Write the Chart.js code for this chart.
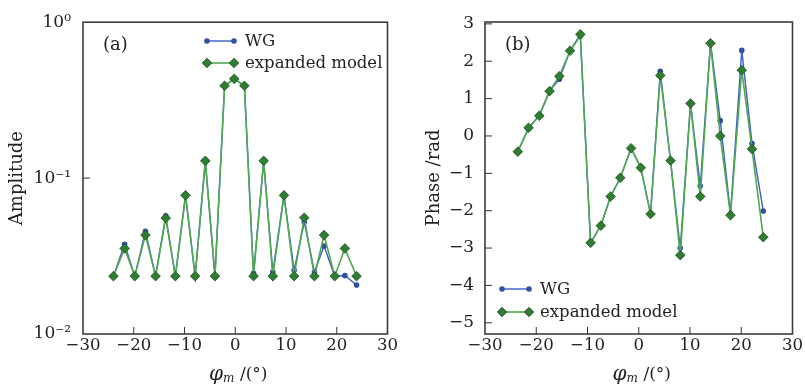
<!DOCTYPE html>
<html>
<head>
<meta charset="utf-8">
<script src="https://cdn.jsdelivr.net/npm/chart.js@4.4.1/dist/chart.umd.min.js"></script>
<style>
  body { margin: 0; background: #fff; }
  #wrap { position: relative; width: 805px; height: 387px; }
  canvas { position: absolute; top: 0; }
</style>
</head>
<body>
<div id="wrap">
  <canvas id="ampChart" width="400" height="387" style="left:0"></canvas>
  <canvas id="phaseChart" width="405" height="387" style="left:400px"></canvas>
</div>
<script>
// angles (deg)
const phiA = [-24.0, -21.8, -19.8, -17.7, -15.7, -13.7, -11.8, -9.8, -7.9, -5.9, -4.0, -2.1, -0.2,
  1.8, 3.6, 5.6, 7.4, 9.6, 11.6, 13.6, 15.6, 17.5, 19.6, 21.6, 23.9];
const phiB = [-23.6, -21.5, -19.4, -17.4, -15.5, -13.4, -11.4, -9.4, -7.4, -5.5, -3.6, -1.5, 0.4,
  2.3, 4.2, 6.2, 8.1, 10.1, 12.0, 14.0, 15.9, 17.9, 20.1, 22.1, 24.3];

// (a) amplitude
const ampWG = [0.0235, 0.0376, 0.0235, 0.0455, 0.0235, 0.0573, 0.0235, 0.0775, 0.0235, 0.129, 0.0235, 0.391, 0.433,
  0.391, 0.0245, 0.129, 0.025, 0.0775, 0.0256, 0.0522, 0.025, 0.0367, 0.0235, 0.0237, 0.0206];
const ampEM = [0.0235, 0.0354, 0.0235, 0.0431, 0.0235, 0.0554, 0.0235, 0.0775, 0.0235, 0.129, 0.0235, 0.391, 0.433,
  0.391, 0.0235, 0.129, 0.0235, 0.0775, 0.0235, 0.0557, 0.0235, 0.0431, 0.0235, 0.0354, 0.0235];

// (b) phase, rad
const phaseWG = [-0.42, 0.2, 0.56, 1.2, 1.52, 2.28, 2.68, -2.86, -2.4, -1.62, -1.12, -0.33, -0.85,
  -2.09, 1.73, -0.66, -3.0, 0.87, -1.34, 2.5, 0.41, -2.08, 2.29, -0.2, -2.01];
const phaseEM = [-0.42, 0.22, 0.54, 1.2, 1.6, 2.28, 2.72, -2.86, -2.4, -1.62, -1.12, -0.33, -0.85,
  -2.09, 1.62, -0.66, -3.19, 0.87, -1.62, 2.48, 0.0, -2.12, 1.76, -0.35, -2.71];

const seriesNames = ["WG", "expanded model"];
const xTicks = [-30, -20, -10, 0, 10, 20, 30];
const logTickLabels = { 1: "10\u2070", 0.1: "10\u207B\u00B9", 0.01: "10\u207B\u00B2" };

const FONT = "DejaVu Serif";
const BLUE = "#2f4f9f", BLUE_LINE = "#3b5fc4";
const GREEN = "#2e7d32", GREEN_LINE = "#52a852", GREEN_EDGE = "#1c4f1c";

const minus = (v) => (v < 0 ? "\u2212" + Math.abs(v) : String(v));

function pts(xs, ys) {
  return xs.map((x, i) => ({ x: x, y: ys[i] }));
}

function drawMarker(ctx, kind, x, y) {
  ctx.beginPath();
  if (kind === "circle") {
    ctx.fillStyle = BLUE;
    ctx.arc(x, y, 2.8, 0, Math.PI * 2);
    ctx.fill();
  } else {
    const r = 4.8;
    ctx.fillStyle = GREEN;
    ctx.strokeStyle = GREEN_EDGE;
    ctx.lineWidth = 0.8;
    ctx.moveTo(x, y - r); ctx.lineTo(x + r, y); ctx.lineTo(x, y + r); ctx.lineTo(x - r, y);
    ctx.closePath();
    ctx.fill();
    ctx.stroke();
  }
}

// frame, inward ticks, panel label, legend, x title
const decorPlugin = {
  id: "decor",
  afterDraw(chart, args, opts) {
    const { ctx, chartArea: a, scales } = chart;
    ctx.save();
    ctx.strokeStyle = "#333";
    ctx.lineWidth = 1;
    scales.x.ticks.forEach((t) => {
      const px = scales.x.getPixelForValue(t.value);
      if (px > a.left + 1 && px < a.right - 1) {
        ctx.beginPath(); ctx.moveTo(px, a.bottom); ctx.lineTo(px, a.bottom - 7); ctx.stroke();
      }
    });
    scales.y.ticks.forEach((t) => {
      const py = scales.y.getPixelForValue(t.value);
      if (py > a.top + 1 && py < a.bottom - 1) {
        ctx.beginPath(); ctx.moveTo(a.left, py); ctx.lineTo(a.left + 7, py); ctx.stroke();
      }
    });
    ctx.strokeStyle = "#3c3c3c";
    ctx.lineWidth = 1.6;
    ctx.strokeRect(a.left, a.top, a.right - a.left, a.bottom - a.top);

    ctx.fillStyle = "#222";
    ctx.textBaseline = "middle";
    ctx.font = "18px '" + FONT + "'";
    ctx.fillText(opts.label, a.left + 20, a.top + 23);

    // legend
    const lg = opts.legend;
    ctx.font = "16.5px '" + FONT + "'";
    [["circle", BLUE_LINE, 1.4], ["diamond", GREEN_LINE, 1.6]].forEach((s, i) => {
      const y = lg.y + i * lg.gap;
      ctx.strokeStyle = s[1];
      ctx.lineWidth = s[2];
      ctx.beginPath(); ctx.moveTo(lg.x, y); ctx.lineTo(lg.x + 27, y); ctx.stroke();
      drawMarker(ctx, s[0], lg.x, y);
      drawMarker(ctx, s[0], lg.x + 27, y);
      ctx.fillStyle = "#222";
      ctx.fillText(seriesNames[i], lg.x + 38, y + 1);
    });

    // x title: phi_m /(deg)
    const parts = [
      ["\u03C6", "italic 20px '" + FONT + "'", 0],
      ["m", "italic 12px '" + FONT + "'", 4],
      [" /(\u00B0)", "17px '" + FONT + "'", 0],
    ];
    let w = 0;
    parts.forEach((p) => { ctx.font = p[1]; w += ctx.measureText(p[0]).width; });
    let x = (a.left + a.right) / 2 + 3 - w / 2;
    const ty = 375;
    parts.forEach((p) => {
      ctx.font = p[1];
      ctx.fillText(p[0], x, ty + p[2]);
      x += ctx.measureText(p[0]).width;
    });
    ctx.restore();
  },
};

function xScale() {
  return {
    type: "linear",
    min: -30,
    max: 30,
    afterBuildTicks: (s) => { s.ticks = xTicks.map((v) => ({ value: v })); },
    afterFit: (s) => { s.height = 53; },
    ticks: {
      callback: (v) => minus(v),
      font: { family: FONT, size: 16.5 },
      color: "#222",
      padding: 2,
      maxRotation: 0,
    },
    grid: { display: false, drawTicks: false },
    border: { display: false },
  };
}

function datasets(xs, wg, em) {
  return [
    {
      label: seriesNames[0],
      data: pts(xs, wg),
      borderColor: BLUE_LINE,
      borderWidth: 1.4,
      pointStyle: "circle",
      pointRadius: 2.8,
      pointBackgroundColor: BLUE,
      pointBorderWidth: 0,
      order: 2,
    },
    {
      label: seriesNames[1],
      data: pts(xs, em),
      borderColor: GREEN_LINE,
      borderWidth: 1.6,
      pointStyle: "rectRot",
      pointRadius: 4.8,
      pointBackgroundColor: GREEN,
      pointBorderColor: GREEN_EDGE,
      pointBorderWidth: 0.8,
      order: 1,
    },
  ];
}

const common = {
  responsive: false,
  animation: false,
  devicePixelRatio: 1,
  plugins: { legend: { display: false }, tooltip: { enabled: false } },
};

new Chart(document.getElementById("ampChart"), {
  type: "line",
  data: { datasets: datasets(phiA, ampWG, ampEM) },
  options: {
    ...common,
    layout: { padding: { top: 22, right: 7, bottom: 0, left: 0 } },
    plugins: {
      ...common.plugins,
      decor: { label: "(a)", legend: { x: 207, y: 41, gap: 22 } },
    },
    scales: {
      x: xScale(),
      y: {
        type: "logarithmic",
        min: 0.01,
        max: 1,
        afterBuildTicks: (s) => { s.ticks = [0.01, 0.1, 1].map((v) => ({ value: v })); },
        afterFit: (s) => { s.width = 83; },
        ticks: {
          callback: (v) => logTickLabels[v] || "",
          font: { family: FONT, size: 17 },
          color: "#222",
          padding: 12,
        },
        title: {
          display: true,
          text: "Amplitude",
          font: { family: FONT, size: 18 },
          color: "#222",
          padding: { top: 7, bottom: 0 },
        },
        grid: { display: false, drawTicks: false },
        border: { display: false },
      },
    },
  },
  plugins: [decorPlugin],
});

new Chart(document.getElementById("phaseChart"), {
  type: "line",
  data: { datasets: datasets(phiB, phaseWG, phaseEM) },
  options: {
    ...common,
    layout: { padding: { top: 22, right: 10, bottom: 0, left: 0 } },
    plugins: {
      ...common.plugins,
      decor: { label: "(b)", legend: { x: 102, y: 289, gap: 23 } },
    },
    scales: {
      x: xScale(),
      y: {
        type: "linear",
        min: -5.3,
        max: 3.05,
        afterBuildTicks: (s) => { s.ticks = [-5, -4, -3, -2, -1, 0, 1, 2, 3].map((v) => ({ value: v })); },
        afterFit: (s) => { s.width = 85; },
        ticks: {
          callback: (v) => minus(v),
          font: { family: FONT, size: 17 },
          color: "#222",
          padding: 11,
        },
        title: {
          display: true,
          text: "Phase /rad",
          font: { family: FONT, size: 18 },
          color: "#222",
          padding: { top: 24, bottom: 0 },
        },
        grid: { display: false, drawTicks: false },
        border: { display: false },
      },
    },
  },
  plugins: [decorPlugin],
});
</script>
</body>
</html>
